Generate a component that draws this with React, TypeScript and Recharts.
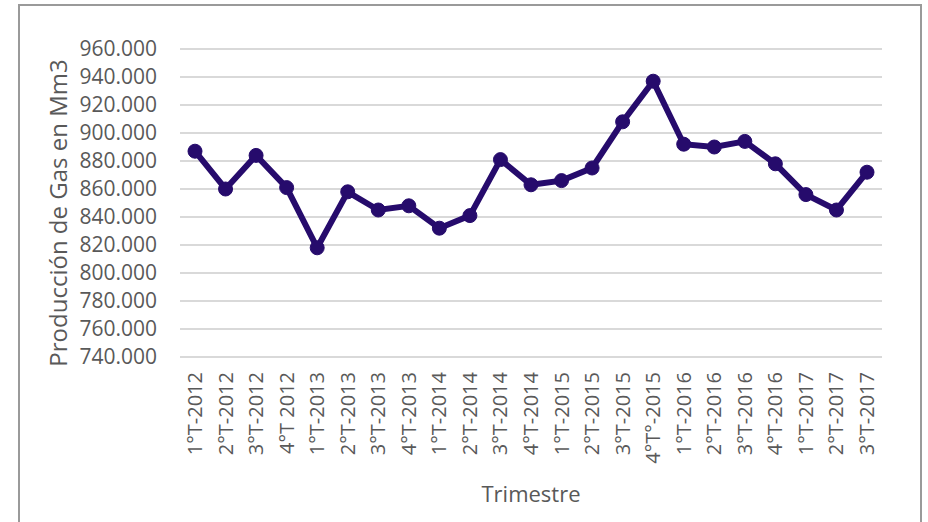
import { LineChart, Line, XAxis, YAxis, CartesianGrid } from 'recharts';

const trimestres = [
  '1°T-2012', '2°T-2012', '3°T-2012', '4°T 2012',
  '1°T-2013', '2°T-2013', '3°T-2013', '4°T-2013',
  '1°T-2014', '2°T-2014', '3°T-2014', '4°T-2014',
  '1°T-2015', '2°T-2015', '3°T-2015', '4°T°-2015',
  '1°T-2016', '2°T-2016', '3°T-2016', '4°T-2016',
  '1°T-2017', '2°T-2017', '3°T-2017'
];

const produccion = [
  887, 860, 884, 861,
  818, 858, 845, 848,
  832, 841, 881, 863,
  866, 875, 908, 937,
  892, 890, 894, 878,
  856, 845, 872
];

const yTicks = [740, 760, 780, 800, 820, 840, 860, 880, 900, 920, 940, 960];

const data = trimestres.map((t, i) => ({ trimestre: t, gas: produccion[i] }));

const TEXT = '#595959';
const LINE = '#260b6c';

const XTick = (props: any) => {
  const { x, y, payload } = props;
  return (
    <g transform={`translate(${x},${y + 15})`}>
      <text x={0} y={0} dy="0.35em" transform="rotate(-90)" textAnchor="end" fill={TEXT} fontSize={20}>
        {payload.value}
      </text>
    </g>
  );
};

export default function App() {
  return (
    <div style={{ position: 'absolute', left: 0, top: 0, width: 928, height: 522, background: '#fff' }}>
      <div
        style={{
          position: 'absolute', left: 18, top: 4, width: 904, height: 530,
          border: '2px solid #9a9a9a', boxSizing: 'border-box'
        }}
      />
      <LineChart
        width={928}
        height={522}
        data={data}
        margin={{ top: 49, right: 46, left: 40, bottom: 15 }}
        style={{ fontFamily: '"Open Sans", sans-serif', position: 'absolute', left: 0, top: 0 }}
      >
        <CartesianGrid vertical={false} stroke="#d9d9d9" strokeWidth={2} />
        <XAxis
          dataKey="trimestre"
          interval={0}
          padding={{ left: 15, right: 15 }}
          axisLine={false}
          tickLine={false}
          tickSize={0}
          tickMargin={0}
          height={150}
          tick={<XTick />}
          label={{ value: 'Trimestre', position: 'insideBottom', offset: 5, fill: TEXT, fontSize: 22 }}
        />
        <YAxis
          domain={[740, 960]}
          ticks={yTicks}
          interval={0}
          axisLine={false}
          tickLine={false}
          tickSize={0}
          tickMargin={23}
          width={140}
          tickFormatter={(v: number) => `${v}.000`}
          tick={{ fill: TEXT, fontSize: 21 }}
          label={{
            value: 'Producción de Gas en Mm3', angle: -90, position: 'insideLeft',
            offset: 18, dy: 10, fill: TEXT, fontSize: 24, style: { textAnchor: 'middle' }
          }}
        />
        <Line
          type="linear"
          dataKey="gas"
          stroke={LINE}
          strokeWidth={6}
          dot={{ r: 7, fill: LINE, stroke: LINE, strokeWidth: 1 }}
          isAnimationActive={false}
        />
      </LineChart>
    </div>
  );
}
